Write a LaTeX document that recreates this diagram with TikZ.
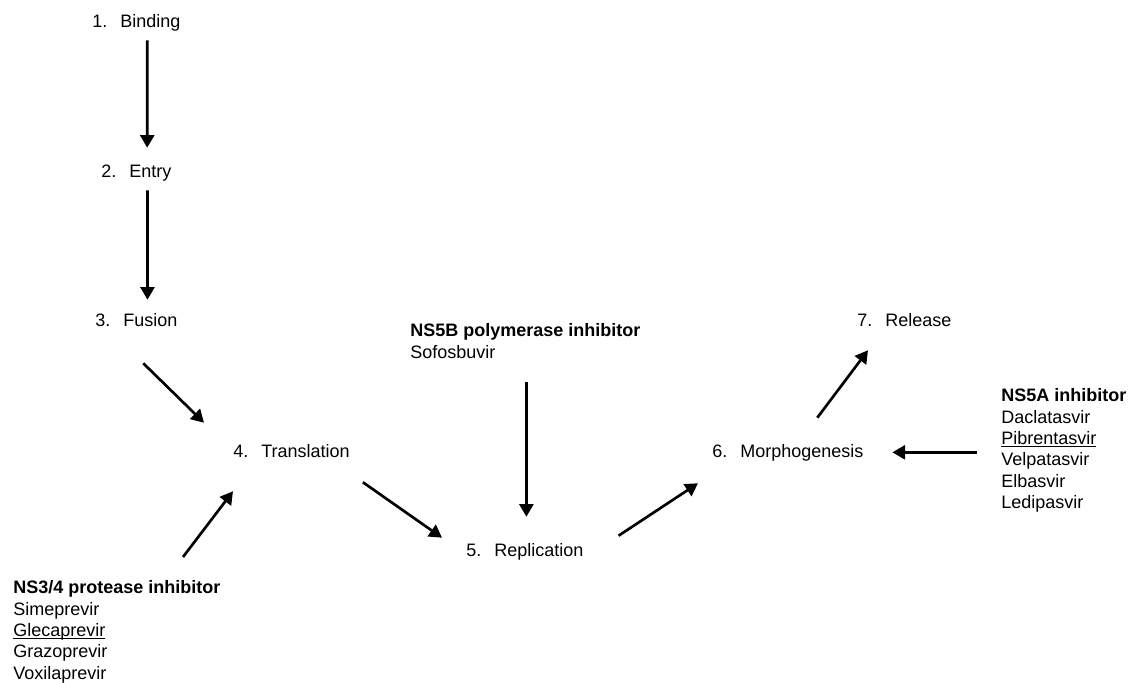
\documentclass[tikz,border=0pt]{standalone}
\usepackage{fontspec}
\setmainfont{Liberation Sans}
\usepackage{tikz}
\usetikzlibrary{positioning,arrows.meta}
\newsavebox{\drugbox}
\newcommand{\drugline}[1]{\sbox{\drugbox}{#1}\rlap{\usebox{\drugbox}}\rule[-1.9pt]{\wd\drugbox}{0.6pt}}
\newcommand{\stagetext}[2]{\makebox[21pt][l]{#1.}#2}

\begin{document}
\begin{tikzpicture}[x=0.75pt,y=-0.75pt,font=\fontsize{13.5}{16}\selectfont]
    \tikzstyle{stage}=[inner sep=0pt, anchor=base west, text height=10pt, text depth=3pt]
    \tikzstyle{drug}=[inner sep=0pt, anchor=north west, align=left]
    \tikzstyle{flow}=[line width=2pt, -{Triangle[width=10.5pt,length=9.5pt]}]
    \useasboundingbox (0,0) rectangle (1128,682);

    % Life cycle
    \node[stage] (bind) at (92,27) {\stagetext{1}{Binding}};
    \node[stage] (entry) at (101,177) {\stagetext{2}{Entry}};
    \node[stage] (fusion) at (95,326) {\stagetext{3}{Fusion}};
    \node[stage] (trans) at (233,457) {\stagetext{4}{Translation}};
    \node[stage] (rep) at (466,556) {\stagetext{5}{Replication}};
    \node[stage] (morph) at (712,457) {\stagetext{6}{Morphogenesis}};
    \node[stage] (rel) at (857,326) {\stagetext{7}{Release}};

    % Drugs
    \node[drug] (ns34) at (13,580.4) {\textbf{NS3/4 protease inhibitor}\\Simeprevir\\\drugline{Glecaprevir}\\Grazoprevir\\Voxilaprevir};
    \node[drug] (ns5b) at (410,323.4) {\textbf{NS5B polymerase inhibitor}\\Sofosbuvir};
    \node[drug] (ns5a) at (1001,388.4) {\textbf{NS5A inhibitor}\\Daclatasvir\\\drugline{Pibrentasvir}\\Velpatasvir\\Elbasvir\\Ledipasvir};

    \draw[flow,shorten <=6.75pt,shorten >=11.75pt] ([xshift=8.2pt]bind.south) -- ([xshift=8.2pt]entry.north);
    \draw[flow,shorten <=6.75pt,shorten >=9.5pt] ([xshift=8.4pt]entry.south) -- ([xshift=8.4pt]fusion.north);
    \draw[flow] ([shift={(7,33)}]fusion.south) -- ([shift={(-29,-20.7)}]trans.north west);
    \draw[flow] ([shift={(13,21)}]trans.south east) -- ([shift={(-24,-4.7)}]rep.north west);
    \draw[flow] ([shift={(35,-6.7)}]rep.north east) -- ([shift={(-14,22)}]morph.south west);
    \draw[flow] ([shift={(29.5,-25.7)}]morph.north) -- ([shift={(11,20)}]rel.south west);

    \draw[flow] ([shift={(170,-23.4)}]ns34.north west) -- ([shift={(0,30)}]trans.south west);
    \draw[flow,shorten <=18pt,shorten >=19.25pt] ([xshift=1.2pt]rep.north |- ns5b.south) -- ([xshift=1.2pt]rep.north);
    \draw[flow,shorten <=18pt,shorten >=21.6pt] (morph.east -| ns5a.west) -- (morph.east);
\end{tikzpicture}
\end{document}
